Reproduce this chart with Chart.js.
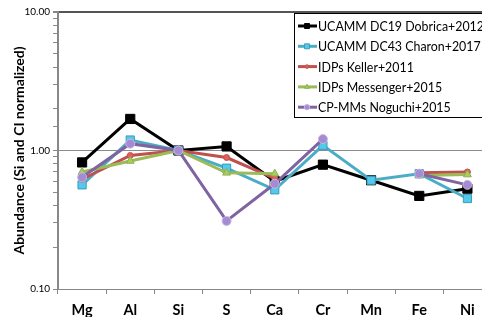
<!DOCTYPE html>
<html>
<head>
<meta charset="utf-8">
<script src="https://cdn.jsdelivr.net/npm/chart.js@4.4.0/dist/chart.umd.min.js"></script>
<style>
  html, body { margin: 0; padding: 0; background: #fff; overflow: hidden; }
  #wrap { width: 499px; height: 317px; }
</style>
</head>
<body>
<div id="wrap"><canvas id="chart" width="499" height="317"></canvas></div>
<script>
// elements on the x axis
var elements = ['Mg', 'Al', 'Si', 'S', 'Ca', 'Cr', 'Mn', 'Fe', 'Ni'];

// abundances (null = no value)
var dobrica2012 = [0.82, 1.69, 1.00, 1.07, 0.60, 0.79, 0.61, 0.47, 0.53];
var charon2017 = [0.565, 1.19, 1.00, 0.745, 0.52, 1.09, 0.61, 0.68, 0.45];
var keller2011 = [0.62, 0.92, 1.00, 0.89, 0.63, null, null, 0.69, 0.70];
var messenger2015 = [0.70, 0.84, 1.00, 0.69, 0.68, null, null, 0.66, 0.67];
var noguchi2015 = [0.64, 1.12, 1.00, 0.31, 0.575, 1.21, null, 0.68, 0.565];

var seriesLabels = ['UCAMM DC19 Dobrica+2012', 'UCAMM DC43 Charon+2017', 'IDPs Keller+2011',
  'IDPs Messenger+2015', 'CP-MMs Noguchi+2015'];
var yTickLabels = [0.1, 1, 10];
var yTitle = 'Abundance (Si and CI normalized)';

var font = 'Lato, "Open Sans", sans-serif';

function makeSet(i, data, color, fill, border, style, radius) {
  return {
    label: seriesLabels[i],
    data: data,
    borderColor: color,
    borderWidth: 3,
    pointStyle: style,
    pointRadius: radius,
    pointBackgroundColor: fill,
    pointBorderColor: border,
    pointBorderWidth: 1,
    spanGaps: false,
    tension: 0,
    order: 4 - i   // last series drawn on top, like Excel
  };
}

var datasets = [
  makeSet(0, dobrica2012, '#000000', '#000000', '#000000', 'rect', 6.5),
  makeSet(1, charon2017, '#4BACC6', '#55C8EC', '#3A9DBB', 'rect', 5.8),
  makeSet(2, keller2011, '#C0504D', '#E0605C', '#C0504D', 'circle', 3),
  makeSet(3, messenger2015, '#9BBB59', '#A8CF5C', '#8FAE4E', 'triangle', 4.5),
  makeSet(4, noguchi2015, '#8064A2', '#A58BD1', '#C8B8E6', 'circle', 4.5)
];

// legend drawn inside the plot, as in the original, plus the rotated y title
var boxLegend = {
  id: 'boxLegend',
  afterDraw: function(chart) {
    var ctx = chart.ctx;
    var area = chart.chartArea;
    var x0 = area.left + 236;
    var y0 = area.top + 1;
    ctx.save();
    ctx.fillStyle = '#fff';
    ctx.fillRect(x0, y0, 300, 104);
    ctx.strokeStyle = '#000';
    ctx.lineWidth = 1;
    ctx.strokeRect(x0 + 0.5, y0 + 0.5, 300, 104);
    ctx.font = '12.4px ' + font;
    ctx.textBaseline = 'middle';
    chart.data.datasets.forEach(function(ds, i) {
      var y = y0 + 13 + i * 20.3;
      ctx.strokeStyle = ds.borderColor;
      ctx.lineWidth = 3;
      ctx.beginPath();
      ctx.moveTo(x0 + 4, y);
      ctx.lineTo(x0 + 23, y);
      ctx.stroke();
      ctx.fillStyle = ds.pointBackgroundColor;
      ctx.strokeStyle = ds.pointBorderColor;
      ctx.lineWidth = 1;
      Chart.helpers.drawPoint(ctx, {
        pointStyle: ds.pointStyle,
        radius: Math.min(ds.pointRadius * 0.6, 3.5),
        borderWidth: 1
      }, x0 + 13, y);
      ctx.fillStyle = '#000';
      ctx.fillText(ds.label, x0 + 24, y + 1);
    });

    // y axis title
    ctx.translate(19, (area.top + area.bottom) / 2);
    ctx.rotate(-Math.PI / 2);
    ctx.font = 'bold 14px ' + font;
    ctx.textAlign = 'center';
    ctx.textBaseline = 'middle';
    ctx.fillStyle = '#000';
    ctx.fillText(yTitle, 0, 0);
    ctx.restore();
  }
};

new Chart(document.getElementById('chart'), {
  type: 'line',
  data: { labels: elements, datasets: datasets },
  plugins: [boxLegend],
  options: {
    responsive: false,
    animation: false,
    layout: { padding: { top: 12, right: 3, left: 0, bottom: 0 } },
    plugins: { legend: { display: false }, tooltip: { enabled: false } },
    scales: {
      x: {
        type: 'category',
        offset: true,
        grid: {
          offset: true,
          drawOnChartArea: false,
          color: '#888',
          tickLength: 5
        },
        border: { color: '#888', width: 1 },
        ticks: {
          color: '#000',
          font: { family: font, size: 14.5, weight: 'bold' },
          padding: 8,
          maxRotation: 0
        },
        afterFit: function(s) { s.height = 28; }
      },
      y: {
        type: 'logarithmic',
        min: 0.1,
        max: 10,
        grid: {
          color: function(c) {
            if (c.tick && c.tick.value === 1) return '#8c8c8c';
            if (c.tick && c.tick.value === 10) return '#555';
            return 'rgba(0,0,0,0)';
          },
          lineWidth: function(c) { return c.tick && c.tick.value === 10 ? 2 : 1; },
          tickColor: '#888',
          tickLength: 5
        },
        border: { color: '#888', width: 2 },
        ticks: {
          autoSkip: false,
          color: '#000',
          font: { family: font, size: 10 },
          padding: 3,
          callback: function(v) {
            return yTickLabels.indexOf(v) >= 0 ? v.toFixed(2) : '';
          }
        },
        afterFit: function(s) { s.width = 58; }
      }
    }
  }
});
</script>
</body>
</html>
